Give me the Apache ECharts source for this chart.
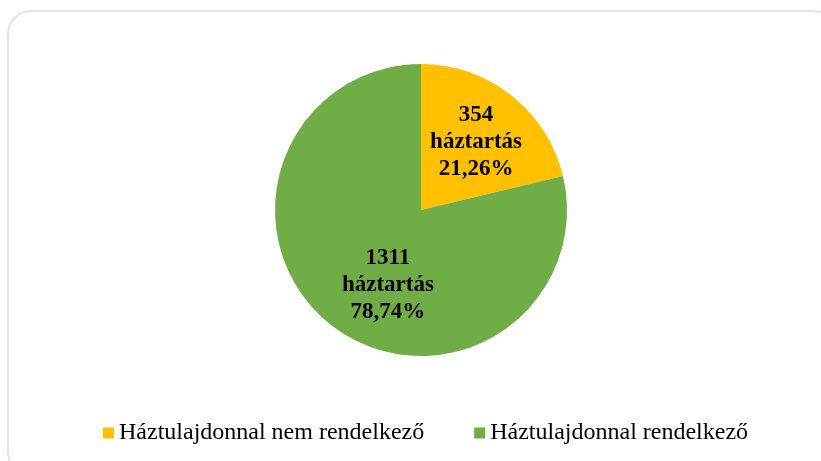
<!DOCTYPE html>
<html>
<head>
<meta charset="utf-8">
<script src="https://cdn.jsdelivr.net/npm/echarts@6/dist/echarts.min.js"></script>
<style>
  html, body { margin: 0; padding: 0; background: #fff; overflow: hidden; }
  #frame {
    position: absolute; left: 7px; top: 10px; width: 830px; height: 466px;
    border: 2px solid #e1e4ec; border-radius: 24px; box-sizing: border-box;
  }
  #chart { position: absolute; left: 0; top: 0; width: 821px; height: 461px; }
</style>
</head>
<body>
<div id="frame"></div>
<div id="chart"></div>
<script>
;(function () {
  'use strict'

  var categories = ['Háztulajdonnal nem rendelkező', 'Háztulajdonnal rendelkező']
  var households = [354, 1311]
  var percents = ['21,26%', '78,74%']

  var COLORS = ['#ffc000', '#70ad47']
  var LABEL_OFFSETS = [[8, -8], [14, 15]]
  var SERIF = '"Liberation Serif", "Times New Roman", serif'

  var pieData = categories.map(function (name, i) {
    return {
      name: name,
      value: households[i],
      itemStyle: { color: COLORS[i] },
      label: { offset: LABEL_OFFSETS[i] }
    }
  })

  var chart = echarts.init(document.getElementById('chart'), null, { renderer: 'canvas' })
  chart.setOption({
    backgroundColor: 'transparent',
    animation: false,
    legend: {
      left: 103,
      top: 421,
      padding: 0,
      itemWidth: 11,
      itemHeight: 11,
      itemGap: 50,
      icon: 'rect',
      textStyle: { fontFamily: SERIF, fontSize: 24, color: '#000' },
      data: categories
    },
    series: [{
      type: 'pie',
      center: [421, 210],
      radius: 146,
      startAngle: 90,
      clockwise: true,
      avoidLabelOverlap: false,
      itemStyle: { borderWidth: 0 },
      label: {
        show: true,
        position: 'inside',
        fontFamily: SERIF,
        fontSize: 23,
        fontWeight: 'bold',
        color: '#000',
        lineHeight: 27,
        formatter: function (p) {
          return p.value + '\nháztartás\n' + percents[p.dataIndex]
        }
      },
      labelLine: { show: false },
      data: pieData
    }]
  })
})()
</script>
</body>
</html>
